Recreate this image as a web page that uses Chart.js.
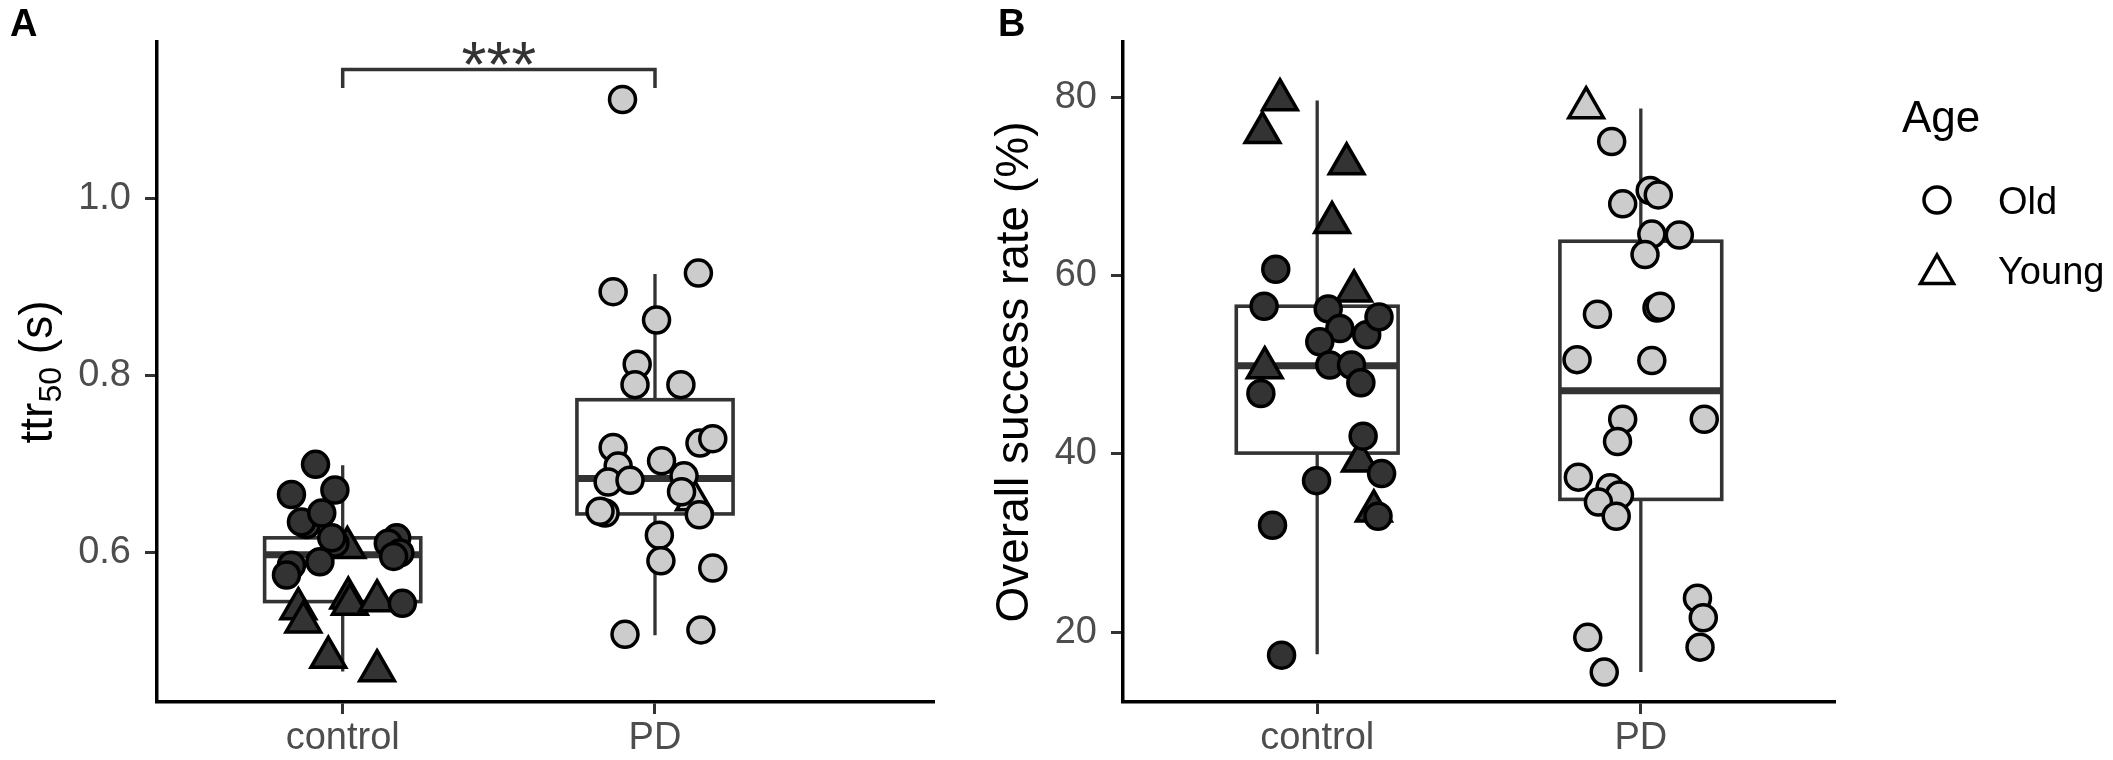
<!DOCTYPE html>
<html>
<head>
<meta charset="utf-8">
<script src="https://cdn.jsdelivr.net/npm/chart.js@4.4.1/dist/chart.umd.min.js"></script>
<style>
    body { margin: 0; background: #fff; }
    #wrap { position: relative; width: 2113px; height: 760px; }
    canvas { position: absolute; top: 0; }
</style>
</head>
<body>
<div id="wrap">
    <canvas id="chartA" width="960" height="760" style="left:0"></canvas>
    <canvas id="chartB" width="1153" height="760" style="left:960px"></canvas>
</div>
<script>
//==========Data===========
const groups = ['control', 'PD'];
const ageLabels = ['Old', 'Young'];

// panel A - ttr50 (s)
const ttrTicks = [0.6, 0.8, 1.0];
const ttrTickLabels = ['0.6', '0.8', '1.0'];
const ttrCtrlOld = [0.700, 0.666, 0.671, 0.632, 0.635, 0.645, 0.611, 0.617, 0.590, 0.586, 0.575, 0.617, 0.611, 0.600, 0.596, 0.543];
const ttrCtrlOldJitter = [-0.087, -0.164, -0.025, -0.116, -0.132, -0.067, -0.025, -0.035, -0.073, -0.164, -0.180, 0.173, 0.146, 0.183, 0.163, 0.191];
const ttrCtrlYoung = [0.606, 0.537, 0.522, 0.549, 0.542, 0.546, 0.482, 0.467];
const ttrCtrlYoungJitter = [0.015, -0.142, -0.126, 0.018, 0.023, 0.110, -0.046, 0.110];
const ttrPDOld = [0.895, 0.916, 0.863, 0.813, 0.790, 0.790, 0.719, 0.724, 0.729, 0.704, 0.698, 0.680, 0.682, 0.687, 0.669, 0.643, 0.645, 0.647, 0.620, 0.591, 0.583, 0.508, 0.513, 1.112];
const ttrPDOldJitter = [-0.134, 0.139, 0.005, -0.057, -0.064, 0.083, -0.134, 0.144, 0.185, 0.021, -0.118, -0.150, -0.080, 0.093, 0.085, 0.142, -0.160, -0.176, 0.014, 0.019, 0.185, -0.096, 0.147, -0.104];
const ttrPDYoung = [0.660];
const ttrPDYoungJitter = [0.125];
// box stats: [lower whisker, q1, median, q3, upper whisker]
const ttrBoxControl = [0.466, 0.545, 0.598, 0.617, 0.699];
const ttrBoxPD = [0.507, 0.644, 0.684, 0.773, 0.915];
const ttrBracket = [1.125, 1.146];
const ttrSignif = '***';

// panel B - overall success rate (%)
const rateTicks = [20, 40, 60, 80];
const rateTickLabels = ['20', '40', '60', '80'];
const rateCtrlOld = [60.75, 56.6, 56.3, 54.1, 53.4, 55.4, 52.6, 50.0, 50.0, 48.0, 46.8, 42.0, 37.8, 37.0, 33.0, 32.0, 17.4];
const rateCtrlOldJitter = [-0.128, -0.164, 0.034, 0.070, 0.153, 0.191, 0.008, 0.039, 0.106, 0.135, -0.174, 0.142, 0.199, -0.002, 0.188, -0.138, -0.110];
const rateCtrlYoung = [79.8, 76.1, 72.6, 66.0, 58.3, 49.7, 39.2, 33.6];
const rateCtrlYoungJitter = [-0.115, -0.169, 0.091, 0.046, 0.114, -0.162, 0.132, 0.175];
const ratePDOld = [75.1, 69.6, 69.1, 68.1, 64.7, 64.6, 62.4, 56.4, 56.6, 55.7, 50.6, 50.5, 43.9, 43.9, 41.4, 37.4, 36.2, 35.4, 34.6, 33.0, 23.8, 21.6, 18.3, 19.4, 15.5];
const ratePDOldJitter = [-0.090, 0.029, 0.054, -0.056, 0.034, 0.119, 0.013, 0.050, 0.060, -0.134, -0.197, 0.034, -0.056, 0.196, -0.072, -0.193, -0.095, -0.066, -0.131, -0.076, 0.175, 0.193, 0.183, -0.164, -0.113];
const ratePDYoung = [78.9];
const ratePDYoungJitter = [-0.169];
const rateBoxControl = [17.5, 40.1, 49.9, 56.6, 79.7];
const ratePDBox = [15.5, 34.9, 47.1, 63.9, 78.8];

//==========Style===========
const FONT = "'Liberation Sans', Arial, sans-serif";
const DARK = '#333333';
const LIGHT = '#CCCCCC';
const BOX_WIDTH = 0.5;
Chart.defaults.font.family = FONT;

function toPoints(values, jitter, cat) {
    return values.map((v, i) => ({ x: cat + jitter[i], y: v }));
}

function pointSet(values, jitter, cat, fill, shape) {
    return {
        data: toPoints(values, jitter, cat),
        pointStyle: shape,
        pointRadius: shape === 'triangle' ? 20 : 13,
        backgroundColor: fill,
        borderColor: '#000',
        borderWidth: 3.5
    };
}

//==========Plugins===========
function makeBoxPlugin(stats) {
    return {
        id: 'boxplot',
        beforeDatasetsDraw(chart) {
            const { ctx, scales: { x, y } } = chart;
            ctx.save();
            ctx.strokeStyle = DARK;
            stats.forEach((s, i) => {
                const cx = x.getPixelForValue(i + 1);
                const xl = x.getPixelForValue(i + 1 - BOX_WIDTH / 2);
                const xr = x.getPixelForValue(i + 1 + BOX_WIDTH / 2);
                const [lo, q1, med, q3, hi] = s.map(v => y.getPixelForValue(v));
                ctx.lineWidth = 3.3;
                ctx.beginPath();
                ctx.moveTo(cx, hi); ctx.lineTo(cx, q3);
                ctx.moveTo(cx, q1); ctx.lineTo(cx, lo);
                ctx.stroke();
                ctx.fillStyle = '#fff';
                ctx.fillRect(xl, q3, xr - xl, q1 - q3);
                ctx.lineWidth = 3.6;
                ctx.strokeRect(xl, q3, xr - xl, q1 - q3);
                ctx.lineWidth = 7;
                ctx.beginPath();
                ctx.moveTo(xl, med); ctx.lineTo(xr, med);
                ctx.stroke();
            });
            ctx.restore();
        }
    };
}

function makeTagPlugin(tag, tx) {
    return {
        id: 'tag',
        afterDraw(chart) {
            const ctx = chart.ctx;
            ctx.save();
            ctx.fillStyle = '#000';
            ctx.font = 'bold 38px ' + FONT;
            ctx.textBaseline = 'alphabetic';
            ctx.fillText(tag, tx, 36);
            ctx.restore();
        }
    };
}

const bracketPlugin = {
    id: 'bracket',
    afterDatasetsDraw(chart) {
        const { ctx, scales: { x, y } } = chart;
        const x1 = x.getPixelForValue(1), x2 = x.getPixelForValue(2);
        const yb = y.getPixelForValue(ttrBracket[0]);
        const yt = y.getPixelForValue(ttrBracket[1]);
        ctx.save();
        ctx.strokeStyle = DARK;
        ctx.lineWidth = 3.5;
        ctx.beginPath();
        ctx.moveTo(x1, yb); ctx.lineTo(x1, yt); ctx.lineTo(x2, yt); ctx.lineTo(x2, yb);
        ctx.stroke();
        ctx.fillStyle = DARK;
        ctx.font = '64px ' + FONT;
        ctx.textAlign = 'center';
        ctx.textBaseline = 'alphabetic';
        ctx.fillText(ttrSignif, (x1 + x2) / 2, yt + 18);
        ctx.restore();
    }
};

// y title with a real subscript
const ttrTitlePlugin = {
    id: 'ttrTitle',
    afterDraw(chart) {
        const { ctx, chartArea } = chart;
        const cy = (chartArea.top + chartArea.bottom) / 2;
        ctx.save();
        ctx.translate(52, cy);
        ctx.rotate(-Math.PI / 2);
        ctx.fillStyle = '#000';
        ctx.textBaseline = 'alphabetic';
        ctx.font = '46px ' + FONT;
        const w1 = ctx.measureText('ttr').width;
        const w3 = ctx.measureText(' (s)').width;
        ctx.font = '32px ' + FONT;
        const w2 = ctx.measureText('50').width;
        let x0 = -(w1 + w2 + w3) / 2;
        ctx.font = '46px ' + FONT;
        ctx.fillText('ttr', x0, 0);
        ctx.font = '32px ' + FONT;
        ctx.fillText('50', x0 + w1, 9);
        ctx.font = '46px ' + FONT;
        ctx.fillText(' (s)', x0 + w1 + w2, 0);
        ctx.restore();
    }
};

const legendPlugin = {
    id: 'ageLegend',
    afterDraw(chart) {
        const ctx = chart.ctx;
        ctx.save();
        ctx.fillStyle = '#000';
        ctx.textBaseline = 'alphabetic';
        ctx.font = '44px ' + FONT;
        ctx.fillText('Age', 942, 132);
        ctx.strokeStyle = '#000';
        ctx.lineWidth = 3.5;
        ageLabels.forEach((lab, i) => {
            const cy = 200 + i * 70;
            const cx = 977;
            ctx.beginPath();
            if (i === 0) {
                ctx.arc(cx, cy, 13, 0, Math.PI * 2);
            } else {
                const r = 19, c = cy + 4;
                ctx.moveTo(cx, c - r);
                ctx.lineTo(cx + r * 0.866, c + r / 2);
                ctx.lineTo(cx - r * 0.866, c + r / 2);
                ctx.closePath();
            }
            ctx.stroke();
            ctx.font = '38px ' + FONT;
            ctx.fillText(lab, 1038, cy + 13.5);
        });
        ctx.restore();
    }
};

//==========Charts===========
function panelOptions(cfg) {
    return {
        responsive: false,
        animation: false,
        devicePixelRatio: 1,
        events: [],
        layout: { padding: cfg.padding },
        plugins: { legend: { display: false }, tooltip: { enabled: false } },
        scales: {
            x: {
                type: 'linear',
                min: cfg.xMin,
                max: cfg.xMax,
                afterFit: s => { s.height = 58; },
                afterBuildTicks: s => { s.ticks = groups.map((g, i) => ({ value: i + 1 })); },
                ticks: {
                    callback: v => groups[v - 1],
                    font: { size: 38 },
                    color: '#4D4D4D',
                    padding: 2,
                    autoSkip: false,
                    maxRotation: 0
                },
                grid: { drawOnChartArea: false, drawTicks: true, tickLength: 12, tickWidth: 3, tickColor: DARK },
                border: { display: true, color: '#000', width: 3.5 }
            },
            y: {
                type: 'linear',
                min: cfg.yMin,
                max: cfg.yMax,
                afterFit: s => { s.width = cfg.yWidth; },
                afterBuildTicks: s => { s.ticks = cfg.ticks.map(v => ({ value: v })); },
                ticks: {
                    callback: (v, i) => cfg.tickLabels[i],
                    font: { size: 38 },
                    color: '#4D4D4D',
                    padding: 14
                },
                grid: { drawOnChartArea: false, drawTicks: true, tickLength: 12, tickWidth: 3, tickColor: DARK },
                border: { display: true, color: '#000', width: 3.5 },
                title: cfg.yTitle
            }
        }
    };
}

new Chart(document.getElementById('chartA'), {
    type: 'scatter',
    data: {
        datasets: [
            pointSet(ttrCtrlOld, ttrCtrlOldJitter, 1, DARK, 'circle'),
            pointSet(ttrCtrlYoung, ttrCtrlYoungJitter, 1, DARK, 'triangle'),
            pointSet(ttrPDOld, ttrPDOldJitter, 2, LIGHT, 'circle'),
            pointSet(ttrPDYoung, ttrPDYoungJitter, 2, LIGHT, 'triangle')
        ]
    },
    options: panelOptions({
        padding: { left: 0, top: 42, right: 26, bottom: 0 },
        xMin: 0.4054, xMax: 2.8934,
        yMin: 0.4316, yMax: 1.177,
        yWidth: 157,
        ticks: ttrTicks, tickLabels: ttrTickLabels,
        yTitle: { display: false }
    }),
    plugins: [makeBoxPlugin([ttrBoxControl, ttrBoxPD]), bracketPlugin, ttrTitlePlugin, makeTagPlugin('A', 10)]
});

new Chart(document.getElementById('chartB'), {
    type: 'scatter',
    data: {
        datasets: [
            pointSet(rateCtrlOld, rateCtrlOldJitter, 1, DARK, 'circle'),
            pointSet(rateCtrlYoung, rateCtrlYoungJitter, 1, DARK, 'triangle'),
            pointSet(ratePDOld, ratePDOldJitter, 2, LIGHT, 'circle'),
            pointSet(ratePDYoung, ratePDYoungJitter, 2, LIGHT, 'triangle')
        ]
    },
    options: panelOptions({
        padding: { left: 0, top: 42, right: 278, bottom: 0 },
        xMin: 0.4, xMax: 2.6,
        yMin: 12.14, yMax: 86.28,
        yWidth: 163,
        ticks: rateTicks, tickLabels: rateTickLabels,
        yTitle: {
            display: true,
            text: 'Overall success rate (%)',
            font: { size: 46 },
            color: '#000',
            padding: { top: 28, bottom: 0 }
        }
    }),
    plugins: [makeBoxPlugin([rateBoxControl, ratePDBox]), legendPlugin, makeTagPlugin('B', 38)]
});
</script>
</body>
</html>
